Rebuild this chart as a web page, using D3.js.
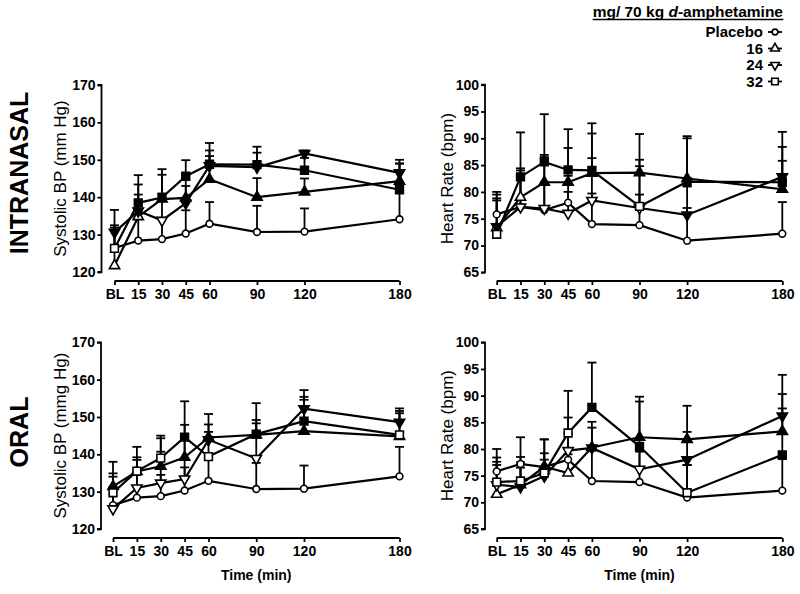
<!DOCTYPE html>
<html><head><meta charset="utf-8">
<script src="https://cdn.jsdelivr.net/npm/d3@7"></script>
<style>body{margin:0;background:#fff}svg{display:block}text{font-family:"Liberation Sans",Arial,sans-serif;fill:#000}</style>
</head><body><svg id="c" width="800" height="594"></svg>
<script>
// ---------- data ----------
const times = [0, 15, 30, 45, 60, 90, 120, 180];
const timeLabels = ["BL", "15", "30", "45", "60", "90", "120", "180"];
const doseNames = ["Placebo", "16", "24", "32"];
const doseSymbols = ["circle", "up", "down", "square"];
const legendTitle = "mg/ 70 kg d-amphetamine";
const rowLabels = ["INTRANASAL", "ORAL"];
const sbpTicks = [120, 130, 140, 150, 160, 170];
const hrTicks = [65, 70, 75, 80, 85, 90, 95, 100];

// placebo (shared by both routes)
const placeboSbp = [126.4, 128.4, 128.8, 130.3, 132.9, 130.7, 130.8, 134.1];
const placeboSbpTop = [131.3, 134.5, 134.5, 136.5, 138.7, 137.7, 137.0, 142.0];
const placeboHr = [75.8, 77.2, 76.6, 78.0, 74.0, 73.8, 70.9, 72.2];
const placeboHrTop = [80.0, 82.2, 81.8, 83.0, 79.7, 79.5, 77.0, 78.1];
const placeboSig = [0, 0, 0, 0, 0, 0, 0, 0];

// intranasal systolic BP
const inSbp16 = [121.7, 134.8, 139.5, 139.8, 144.8, 140.0, 141.4, 144.3];
const inSbp16Top = [131.9, 140.7, 146.0, 146.0, 151.0, 145.1, 145.0, 149.0];
const inSbp16Sig = [0, 0, 1, 1, 1, 1, 1, 1];
const inSbp24 = [130.6, 136.3, 133.8, 138.4, 148.4, 148.0, 151.7, 146.5];
const inSbp24Top = [136.6, 143.4, 141.0, 143.0, 152.5, 151.9, 152.5, 150.0];
const inSbp24Sig = [1, 1, 0, 1, 1, 1, 1, 1];
const inSbp32 = [126.3, 138.5, 139.9, 145.6, 148.8, 148.7, 147.2, 142.0];
const inSbp32Top = [132.5, 145.9, 147.5, 149.9, 154.5, 153.5, 150.5, 149.0];
const inSbp32Sig = [0, 1, 1, 1, 1, 1, 1, 1];

// intranasal heart rate
const inHr16 = [73.3, 79.0, 81.8, 81.8, 83.5, 83.6, 82.5, 80.5];
const inHr16Top = [79.5, 84.4, 86.9, 88.2, 90.9, 90.8, 90.0, 85.8];
const inHr16Sig = [0, 0, 1, 1, 1, 1, 1, 1];
const inHr24 = [73.5, 77.2, 76.9, 76.0, 78.4, 77.0, 75.7, 82.8];
const inHr24Top = [78.4, 84.0, 86.5, 80.0, 86.3, 84.8, 81.0, 91.2];
const inHr24Sig = [1, 0, 0, 0, 0, 0, 1, 1];
const inHr32 = [72.1, 82.8, 85.6, 84.1, 84.0, 77.3, 81.9, 81.8];
const inHr32Top = [78.8, 91.1, 94.5, 91.7, 92.8, 86.0, 90.4, 88.4];
const inHr32Sig = [0, 1, 1, 1, 1, 0, 1, 1];

// oral systolic BP
const orSbp16 = [131.4, 135.4, 136.8, 139.2, 144.5, 145.2, 146.2, 144.8];
const orSbp16Top = [138.0, 139.2, 144.3, 147.9, 148.0, 148.3, 154.6, 151.0];
const orSbp16Sig = [1, 1, 1, 1, 1, 1, 1, 1];
const orSbp24 = [125.4, 131.0, 132.3, 133.4, 143.9, 138.9, 152.2, 148.6];
const orSbp24Top = [134.0, 138.5, 140.7, 143.8, 150.8, 153.7, 157.2, 152.3];
const orSbp24Sig = [0, 0, 0, 0, 1, 0, 1, 1];
const orSbp32 = [129.7, 135.5, 139.0, 144.6, 139.4, 145.4, 148.9, 145.2];
const orSbp32Top = [134.9, 142.0, 145.0, 154.2, 146.0, 149.2, 155.4, 151.6];
const orSbp32Sig = [0, 0, 0, 1, 0, 1, 1, 0];

// oral heart rate
const orHr16 = [71.5, 73.3, 76.7, 75.5, 80.3, 82.2, 81.8, 83.3];
const orHr16Top = [77.6, 76.5, 81.8, 79.0, 85.1, 88.9, 88.1, 90.3];
const orHr16Sig = [0, 0, 1, 0, 1, 1, 1, 1];
const orHr24 = [73.3, 72.9, 74.9, 79.7, 80.2, 76.2, 78.0, 86.2];
const orHr24Top = [77.0, 77.5, 78.0, 85.9, 84.0, 80.0, 83.2, 93.9];
const orHr24Sig = [0, 1, 1, 0, 1, 0, 1, 1];
const orHr32 = [73.8, 74.0, 75.5, 83.0, 87.8, 80.5, 71.8, 78.9];
const orHr32Top = [78.4, 78.5, 79.2, 90.9, 96.2, 89.8, 77.0, 87.6];
const orHr32Sig = [0, 0, 0, 0, 1, 1, 0, 1];

// ---------- drawing ----------
const svg = d3.select("#c");
const FONT = '"Liberation Sans", Arial, sans-serif';

const panels = [
  { title: "Systolic BP (mm Hg)", ticks: sbpTicks, yDom: [120, 170], axisX: 101.5, xr: [114.5, 399.5], yr: [272, 85], xAxisY: 281, titleX: 60, xTitle: false,
    series: [[placeboSbp, placeboSbpTop, placeboSig], [inSbp16, inSbp16Top, inSbp16Sig], [inSbp24, inSbp24Top, inSbp24Sig], [inSbp32, inSbp32Top, inSbp32Sig]] },
  { title: "Heart Rate (bpm)", ticks: hrTicks, yDom: [65, 100], axisX: 485, xr: [496.7, 782.3], yr: [272.3, 84.7], xAxisY: 281, titleX: 447, xTitle: false,
    series: [[placeboHr, placeboHrTop, placeboSig], [inHr16, inHr16Top, inHr16Sig], [inHr24, inHr24Top, inHr24Sig], [inHr32, inHr32Top, inHr32Sig]] },
  { title: "Systolic BP (mmg  Hg)", ticks: sbpTicks, yDom: [120, 170], axisX: 101, xr: [113, 399.5], yr: [529, 342.3], xAxisY: 538, titleX: 60, xTitle: true,
    series: [[placeboSbp, placeboSbpTop, placeboSig], [orSbp16, orSbp16Top, orSbp16Sig], [orSbp24, orSbp24Top, orSbp24Sig], [orSbp32, orSbp32Top, orSbp32Sig]] },
  { title: "Heart Rate (bpm)", ticks: hrTicks, yDom: [65, 100], axisX: 485, xr: [496.7, 782.3], yr: [529, 342.3], xAxisY: 538, titleX: 447, xTitle: true,
    series: [[placeboHr, placeboHrTop, placeboSig], [orHr16, orHr16Top, orHr16Sig], [orHr24, orHr24Top, orHr24Sig], [orHr32, orHr32Top, orHr32Sig]] }
];

function symbolPath(kind, scale) {
  const s = scale || 1;
  if (kind === "circle") return d3.symbol(d3.symbolCircle, 36 * s * s)();
  if (kind === "square") return d3.symbol(d3.symbolSquare, 60 * s * s)();
  return d3.symbol(d3.symbolTriangle, 46 * s * s)();
}
function drawMarker(g, kind, x, y, filled, scale) {
  g.append("path").attr("d", symbolPath(kind, scale))
    .attr("transform", `translate(${x},${y})` + (kind === "down" ? " rotate(180)" : ""))
    .attr("fill", filled ? "#000" : "#fff").attr("stroke", "#000").attr("stroke-width", 1.6);
}

panels.forEach(p => {
  const x = d3.scaleLinear().domain([0, 180]).range(p.xr);
  const y = d3.scaleLinear().domain(p.yDom).range(p.yr);
  const g = svg.append("g");

  // y axis
  const ya = d3.axisLeft(y).tickValues(p.ticks).tickSize(4).tickPadding(2).tickFormat(d3.format("d"));
  const yg = g.append("g").attr("transform", `translate(${p.axisX},0)`).call(ya);
  yg.select(".domain").attr("d", `M-4,${y(p.yDom[0])}H0V${y(p.yDom[1])}H-4`).attr("stroke-width", 1.8);
  yg.selectAll(".tick line").attr("stroke-width", 1.8);
  yg.selectAll("text").style("font-family", FONT).style("font-size", "14px").style("font-weight", "bold");

  // x axis
  const xa = d3.axisBottom(x).tickValues(times).tickSize(4).tickPadding(4).tickFormat((d, i) => timeLabels[i]);
  const xg = g.append("g").attr("transform", `translate(0,${p.xAxisY})`).call(xa);
  xg.select(".domain").attr("d", `M${x(0)},0H${x(180)}`).attr("stroke-width", 1.8);
  xg.selectAll(".tick line").attr("stroke-width", 1.8);
  xg.selectAll("text").style("font-family", FONT).style("font-size", "14px").style("font-weight", "bold");

  // y title
  const cy = (p.yr[0] + p.yr[1]) / 2;
  g.append("text").attr("transform", `translate(${p.titleX},${cy}) rotate(-90)`)
    .attr("text-anchor", "middle").attr("dy", "0.35em").style("font-size", "17px").text(p.title);

  if (p.xTitle) {
    g.append("text").attr("x", (p.xr[0] + p.xr[1]) / 2).attr("y", 580).attr("text-anchor", "middle")
      .style("font-size", "14px").style("font-weight", "bold").text("Time (min)");
  }

  const line = d3.line().x((d, i) => x(times[i])).y(d => y(d));
  // lines
  p.series.forEach(s => {
    g.append("path").attr("d", line(s[0])).attr("fill", "none").attr("stroke", "#000").attr("stroke-width", 2.2);
  });
  // error bars
  p.series.forEach(s => {
    s[0].forEach((v, i) => {
      const xx = x(times[i]);
      g.append("line").attr("x1", xx).attr("x2", xx).attr("y1", y(v)).attr("y2", y(s[1][i])).attr("stroke", "#000").attr("stroke-width", 1.8);
      g.append("line").attr("x1", xx - 4.5).attr("x2", xx + 4.5).attr("y1", y(s[1][i])).attr("y2", y(s[1][i])).attr("stroke", "#000").attr("stroke-width", 1.8);
    });
  });
  // markers
  p.series.forEach((s, k) => {
    s[0].forEach((v, i) => drawMarker(g, doseSymbols[k], x(times[i]), y(v), s[2][i] === 1, 1));
  });
});

// row labels
svg.append("text").attr("transform", "translate(19,173) rotate(-90)").attr("text-anchor", "middle").attr("dy", "0.35em")
  .style("font-size", "25px").style("font-weight", "bold").text(rowLabels[0]);
svg.append("text").attr("transform", "translate(19,432) rotate(-90)").attr("text-anchor", "middle").attr("dy", "0.35em")
  .style("font-size", "25px").style("font-weight", "bold").text(rowLabels[1]);

// legend
const lt = svg.append("text").attr("x", 783).attr("y", 17).attr("text-anchor", "end")
  .style("font-size", "15.5px").style("font-weight", "bold");
const parts = legendTitle.split("d-");
lt.append("tspan").text(parts[0]);
lt.append("tspan").style("font-style", "italic").text("d");
lt.append("tspan").text("-" + parts[1]);
const bb = lt.node().getBBox();
svg.append("line").attr("x1", bb.x).attr("x2", bb.x + bb.width).attr("y1", 19.5).attr("y2", 19.5).attr("stroke", "#000").attr("stroke-width", 1.4);

doseNames.forEach((n, k) => {
  const yy = 37 + k * 16.5;
  svg.append("text").attr("x", 763).attr("y", yy).attr("text-anchor", "end")
    .style("font-size", "15px").style("font-weight", "bold").text(n);
  svg.append("line").attr("x1", 768).attr("x2", 782).attr("y1", yy - 5).attr("y2", yy - 5).attr("stroke", "#000").attr("stroke-width", 1.8);
  drawMarker(svg, doseSymbols[k], 775, yy - 5, false, 0.85);
});
</script></body></html>
